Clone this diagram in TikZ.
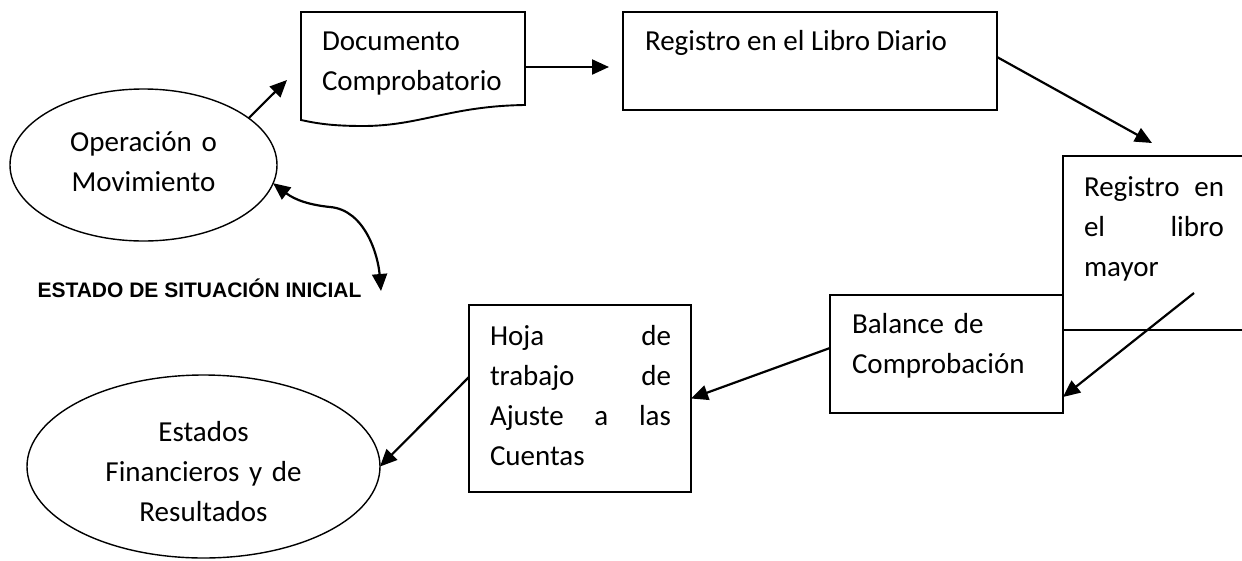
\documentclass[tikz,border=0pt]{standalone}
\usepackage{fontspec}
\setmainfont{Carlito}
\newfontfamily\arialfont{Liberation Sans}
\usetikzlibrary{shapes.geometric,arrows.meta,calc}
\begin{document}
\begin{tikzpicture}[x=1pt,y=-1pt,
  every node/.style={inner sep=0pt, outer sep=0pt},
  boxline/.style={line width=1.9pt},
  shapeline/.style={line width=1.4pt},
  arr/.style={line width=2.2pt, -{Triangle[length=17pt,width=15pt]}},
  dblarr/.style={line width=2.2pt, {Triangle[length=17pt,width=15pt]}-{Triangle[length=17pt,width=15pt]}},
  txt/.style={font=\fontsize{29}{40}\selectfont, anchor=base west, align=left},
  ctxt/.style={font=\fontsize{29}{40}\selectfont, anchor=base, align=center},
]
\path[use as bounding box, fill=white] (0,0) rectangle (1242,560);

% Operacion o Movimiento
\node[draw, shapeline, ellipse, minimum width=267pt, minimum height=152pt] (op) at (143.5,165) {};
\node[ctxt, text width=220pt] (optxt) at (143.5,151) {Operación o\\Movimiento};

% Documento comprobatorio
\draw[boxline] (301,12) -- (525,12) -- (525,105)
  .. controls (450,106) and (420,126) .. (363,126)
  .. controls (330,126) and (315,123) .. (301,120) -- cycle;
\node[minimum width=224pt, minimum height=110pt] (doc) at (413,67) {};
\node[txt, text width=200pt] (doctxt) at (322,50) {Documento\\Comprobatorio};

% Libro diario
\node[draw, boxline, minimum width=374pt, minimum height=98pt] (diario) at (810,61) {};
\node[txt] (diariotxt) at (645,50) {Registro en el Libro Diario};

% Libro mayor (open box)
\draw[boxline] (1242,156) -- (1063,156) -- (1063,330) -- (1242,330);
\node[minimum width=179pt, minimum height=174pt] (mayor) at (1152.5,243) {};
\node[txt, text width=140pt] (mayortxt) at (1084,196) {Registro\hfill en\\el\hfill libro\\mayor};

% Balance de comprobacion
\node[draw, boxline, minimum width=233pt, minimum height=118pt] (balance) at (946.5,354) {};
\node[txt, text width=200pt] (baltxt) at (852,333) {Balance de\\Comprobación};

% Hoja de trabajo
\node[draw, boxline, minimum width=222pt, minimum height=187pt] (hoja) at (580,398.5) {};
\node[txt, text width=181pt] (hojatxt) at (490,345) {Hoja\hfill de\\trabajo\hfill de\\Ajuste\hfill a\hfill las\\Cuentas};

% Estados financieros
\node[draw, shapeline, ellipse, minimum width=353pt, minimum height=183pt] (est) at (203.5,466.5) {};
\node[ctxt, text width=300pt] (esttxt) at (203.5,441) {Estados\\Financieros y de\\Resultados};

% Estado de situacion inicial
\node[font=\arialfont\bfseries\fontsize{21}{25}\selectfont, anchor=base west] (esi) at (37.5,297.5) {ESTADO DE SITUACIÓN INICIAL};

% connector end points
\coordinate (a1) at (287,80);
\coordinate (m1) at (1152,143);
\coordinate (m0) at (1194,293);
\coordinate (e1) at (381,291);

% connectors
\draw[arr] (op.24) -- (a1);
\draw[arr] (doc.east) -- ([xshift=-14pt]diario.west |- doc.east);
\draw[arr] ([yshift=4pt]diario.east) -- (m1);
\draw[arr] (m0) -- ([yshift=-43pt]balance.east);
\draw[arr] ([yshift=6pt]balance.west) -- (hoja.east);
\draw[arr] ([yshift=21.5pt]hoja.west) -- (est.east);
\draw[dblarr] (op.-8) .. controls (295,200) and (310,205) .. (330,207)
  .. controls (365,210) and (378,255) .. (e1);
\end{tikzpicture}
\end{document}
